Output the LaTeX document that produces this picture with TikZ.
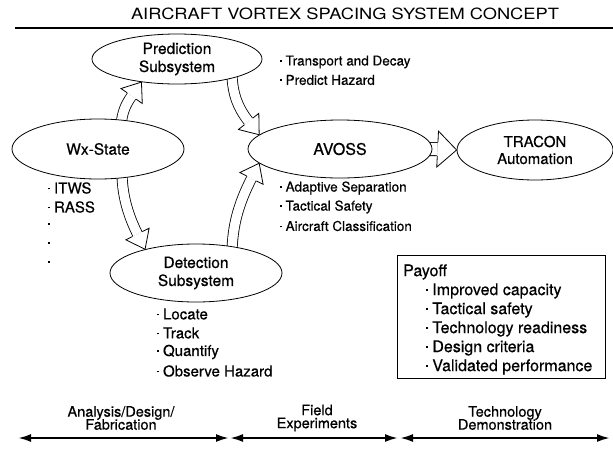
\documentclass[tikz,border=0pt]{standalone}
\usepackage{fontspec}
\usepackage{graphicx}
\setmainfont{TeX Gyre Heros}[FakeBold=0.5]
\newfontfamily\titlefont{TeX Gyre Heros}
\usetikzlibrary{shapes.geometric,calc,arrows.meta}
\newcommand{\bdot}{\rule[0.27em]{1.7pt}{1.7pt}}
\newcommand{\phasefont}{\fontsize{14.5}{13}\selectfont\lineskiplimit-20pt\relax}
\newcommand{\barrow}[7]{% start, c1, c2, tip, headlen, headhalf, shafthalf
  \coordinate (ba-b) at ($(#4)!#5!(#3)$);
  \draw[double=white, double distance=2*#7-1.6pt, line width=0.8pt] (#1) .. controls (#2) and (#3) .. (ba-b);
  \filldraw[fill=white, line width=0.8pt, line join=miter] ($(ba-b)!#7!90:(#4)$) -- ($(ba-b)!#6!90:(#4)$) -- (#4) -- ($(ba-b)!#6!-90:(#4)$) -- ($(ba-b)!#7!-90:(#4)$);
}
\tikzset{
  ell/.style={ellipse, draw, fill=white, line width=0.8pt, inner sep=0pt, align=center, font=\fontsize{15.5}{18}\selectfont},
  lst/.style={anchor=west, inner sep=0pt, font=\fontsize{13.5}{16}\selectfont},
  lstb/.style={anchor=west, inner sep=0pt, font=\fontsize{15}{17}\selectfont},
  lstc/.style={anchor=west, inner sep=0pt, font=\fontsize{16}{18}\selectfont},
  phase/.style={align=center, inner sep=0pt, font=\phasefont},
  bar/.style={line width=2.2pt, {Latex[length=13pt,width=8pt]}-{Latex[length=13pt,width=8pt]}}
}
\begin{document}
\begin{tikzpicture}[x=1pt,y=-1pt]
\useasboundingbox (0,0) rectangle (613,453);
% title
\node[inner sep=0pt, font=\titlefont\fontsize{15.5}{17}\selectfont] (title) at (345,14) {\scalebox{1.18}[1]{AIRCRAFT VORTEX SPACING SYSTEM CONCEPT}};
\coordinate (rl) at (15,28);
\coordinate (rr) at (613,28);
\draw[line width=1.2pt] (rl) -- (rr);
% ellipse placeholders (for anchors)
\path node[ell, minimum width=170pt, minimum height=50pt, draw=none, fill=none] (pred) at (177,59) {\phantom{X}};
\path node[ell, minimum width=172pt, minimum height=60pt, draw=none, fill=none] (wx) at (98,149) {\phantom{X}};
\path node[ell, minimum width=184pt, minimum height=58pt, draw=none, fill=none] (avoss) at (340,149) {\phantom{X}};
\path node[ell, minimum width=156pt, minimum height=60pt, draw=none, fill=none] (tracon) at (535,150) {\phantom{X}};
\path node[ell, minimum width=172pt, minimum height=58pt, draw=none, fill=none] (det) at (196,273) {\phantom{X}};
% block arrows
\coordinate (s1) at (121,126);
\coordinate (c1a) at (122,112);
\coordinate (c1b) at (126,104);
\coordinate (t1) at (pred.213);
\barrow{s1}{c1a}{c1b}{t1}{17pt}{13pt}{5.5pt}
\coordinate (s2) at (232,76);
\coordinate (c2a) at (233,95);
\coordinate (c2b) at (238,108);
\coordinate (t2) at (avoss.170);
\barrow{s2}{c2a}{c2b}{t2}{17pt}{13pt}{5.5pt}
\coordinate (s3) at (122,172);
\coordinate (c3a) at (122,195);
\coordinate (c3b) at (128,215);
\coordinate (t3) at (det.155);
\barrow{s3}{c3a}{c3b}{t3}{17pt}{13pt}{5.5pt}
\coordinate (s4) at (232,250);
\coordinate (c4a) at (233,225);
\coordinate (c4b) at (238,205);
\coordinate (t4) at (avoss.190);
\barrow{s4}{c4a}{c4b}{t4}{17pt}{13pt}{5.5pt}
\coordinate (s5) at (420,149);
\coordinate (c5a) at (428,149);
\coordinate (c5b) at (436,149);
\coordinate (t5) at (tracon.west);
\barrow{s5}{c5a}{c5b}{t5}{19pt}{18pt}{7pt}
% ellipses
\node[ell, minimum width=170pt, minimum height=50pt] at (pred) {Prediction\\Subsystem};
\node[ell, minimum width=172pt, minimum height=60pt] at (wx) {Wx-State};
\node[ell, minimum width=184pt, minimum height=58pt, font=\fontsize{16}{18}\selectfont] at (avoss) {AVOSS};
\node[ell, minimum width=156pt, minimum height=60pt, font=\fontsize{15}{17}\selectfont] at (tracon) {TRACON\\Automation};
\node[ell, minimum width=172pt, minimum height=58pt] at (det) {Detection\\Subsystem};
% lists
\node[lst] (p1) at (280,62) {\bdot\ Transport and Decay};
\node[lst] (p2) at (280,80) {\bdot\ Predict Hazard};
\node[lst] (a1) at (280,188) {\bdot\ Adaptive Separation};
\node[lst] (a2) at (280,207) {\bdot\ Tactical Safety};
\node[lst] (a3) at (280,226) {\bdot\ Aircraft Classification};
\node[lstb] (w1) at (48,188) {\bdot\ ITWS};
\node[lstb] (w2) at (48,207) {\bdot\ RASS};
\node[lstb] (w3) at (48,226) {\bdot};
\node[lstb] (w4) at (48,245) {\bdot};
\node[lstb] (w5) at (48,264) {\bdot};
\node[lstb] (d1) at (157,314) {\bdot\ Locate};
\node[lstb] (d2) at (157,333) {\bdot\ Track};
\node[lstb] (d3) at (157,352) {\bdot\ Quantify};
\node[lstb] (d4) at (157,371) {\bdot\ Observe Hazard};
% payoff
\node[draw, line width=0.8pt, minimum width=208pt, minimum height=123pt, inner sep=0pt] (pay) at (501,316.5) {};
\node[lstc] (y0) at (403,272) {Payoff};
\node[lstc] (y1) at (426,291) {\bdot\ Improved capacity};
\node[lstc] (y2) at (426,310) {\bdot\ Tactical safety};
\node[lstc] (y3) at (426,329) {\bdot\ Technology readiness};
\node[lstc] (y4) at (426,348) {\bdot\ Design criteria};
\node[lstc] (y5) at (426,367) {\bdot\ Validated performance};
% phases
\coordinate (b0) at (18,438);
\coordinate (b1) at (229,438);
\coordinate (b2) at (230,438);
\coordinate (b3) at (398,438);
\coordinate (b4) at (400,438);
\coordinate (b5) at (610,438);
\draw[bar] (b0) -- (b1);
\draw[bar] (b2) -- (b3);
\draw[bar] (b4) -- (b5);
\node[phase] (ph1) at (121,418) {Analysis/Design/\\Fabrication};
\node[phase] (ph2) at (317,418) {Field\\Experiments};
\node[phase] (ph3) at (505,418) {Technology\\Demonstration};
\end{tikzpicture}
\end{document}
